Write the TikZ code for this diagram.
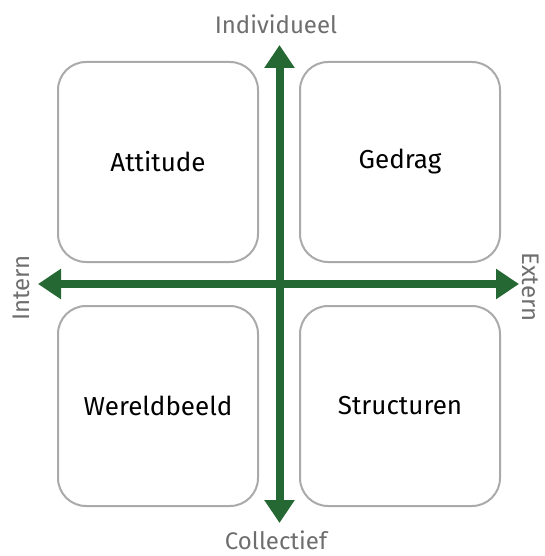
\documentclass[tikz,border=0pt]{standalone}
\usepackage{fontspec}
\setmainfont{Fira Sans}
\usetikzlibrary{arrows.meta}
\definecolor{asgreen}{RGB}{37,104,52}
\definecolor{boxgray}{RGB}{170,170,170}
\definecolor{labelgray}{RGB}{110,110,110}
\tikzset{
  quadrant/.style={draw=boxgray,line width=2pt,rounded corners=28pt,minimum width=200pt,minimum height=200pt,inner sep=0pt,font=\fontsize{26}{30}\selectfont},
  axislabel/.style={text=labelgray,inner sep=0pt,font=\fontsize{24}{28}\selectfont\addfontfeature{Weight=Light}},
  axis/.style={asgreen,line width=8pt,-{Triangle[length=23pt,width=29pt]}}
}
\begin{document}
\begin{tikzpicture}[x=1pt,y=-1pt,line cap=butt]
\useasboundingbox (0,0) rectangle (545,556);
% vier kwadranten
\node[quadrant] (attitude) at (158,162) {Attitude};
\node[quadrant] (gedrag) at (400,162) {Gedrag};
\node[quadrant] (wereldbeeld) at (158,406) {Wereldbeeld};
\node[quadrant] (structuren) at (400,406) {Structuren};
% assen
\coordinate (midden) at (279.5,284);
\coordinate (boven) at (279.5,45);
\coordinate (onder) at (279.5,523);
\coordinate (links) at (38,284);
\coordinate (rechts) at (519,284);
\draw[axis] (midden) -- (links);
\draw[axis] (midden) -- (rechts);
\draw[axis] (midden) -- (boven);
\draw[axis] (midden) -- (onder);
% labels
\node[axislabel] (individueel) at (276,24) {Individueel};
\node[axislabel] (collectief) at (276,540) {Collectief};
\node[axislabel,rotate=90] (intern) at (21,288) {Intern};
\node[axislabel,rotate=-90] (extern) at (531,287) {Extern};
\end{tikzpicture}
\end{document}
